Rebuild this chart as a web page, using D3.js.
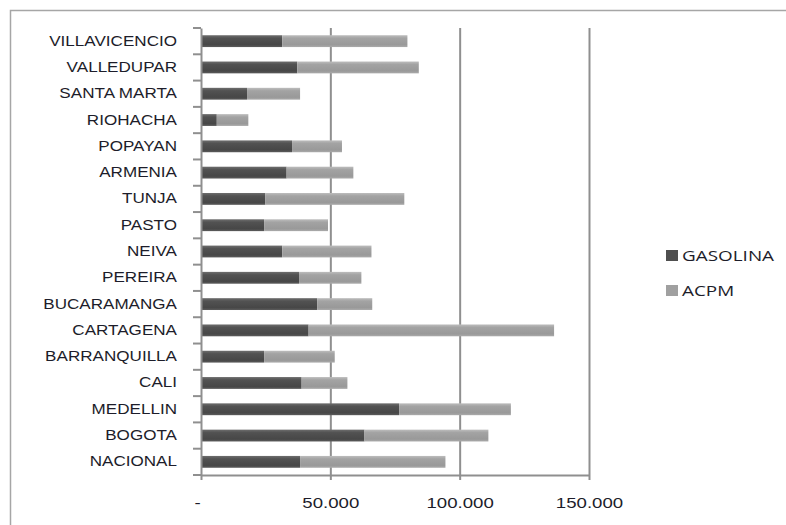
<!DOCTYPE html>
<html>
<head>
<meta charset="utf-8">
<script src="https://cdn.jsdelivr.net/npm/d3@7"></script>
<style>
  body { margin: 0; background: #fff; }
  svg { display: block; font-family: "Open Sans", sans-serif; }
  .axis path, .axis line { stroke: #8f8f8f; stroke-width: 2; }
  .axis text { fill: #1d1d2a; font-size: 14px; }
</style>
</head>
<body>
<div id="chart"></div>
<script>
// categories top to bottom as shown
const categories = ['VILLAVICENCIO', 'VALLEDUPAR', 'SANTA MARTA', 'RIOHACHA', 'POPAYAN', 'ARMENIA', 'TUNJA',
  'PASTO', 'NEIVA', 'PEREIRA', 'BUCARAMANGA', 'CARTAGENA', 'BARRANQUILLA', 'CALI', 'MEDELLIN', 'BOGOTA', 'NACIONAL'];
const gasolina = [31400, 37200, 17800, 6100, 35200, 33100, 24900, 24400, 31400, 37900, 44900, 41600, 24400, 38900, 76600, 63200, 38300];
const acpm = [48400, 47000, 20500, 12200, 19300, 25800, 53700, 24700, 34500, 24100, 21300, 94900, 27300, 17700, 43200, 47900, 56200];
const seriesNames = ['GASOLINA', 'ACPM'];
const xTicks = [0, 50000, 100000, 150000];

const width = 786, height = 525;
const margin = { top: 28, right: 197, bottom: 50, left: 201 };
// the source picture is stretched sideways, so text is widened too
const stretchY = 1.22, stretchX = 1.33, stretchLeg = 1.35;

const svg = d3.select('#chart').append('svg').attr('width', width).attr('height', height);

// outer chart frame (runs off the picture on right and bottom)
svg.append('rect').attr('x', 10.5).attr('y', 10.5).attr('width', 800).attr('height', 540)
  .attr('fill', 'none').attr('stroke', '#a6a6a6').attr('stroke-width', 1.5);

const defs = svg.append('defs');
function grad(id, stops) {
  const g = defs.append('linearGradient').attr('id', id).attr('x1', 0).attr('y1', 0).attr('x2', 0).attr('y2', 1);
  stops.forEach(s => g.append('stop').attr('offset', s[0]).attr('stop-color', s[1]));
}
grad('gGas', [[0, '#6e6e6e'], [0.25, '#525252'], [0.8, '#474747'], [1, '#5c5c5c']]);
grad('gAcpm', [[0, '#bdbdbd'], [0.25, '#a3a3a3'], [0.8, '#999999'], [1, '#ababab']]);
const fills = ['url(#gGas)', 'url(#gAcpm)'];
const legendFills = ['#4f4f4f', '#a0a0a0'];

const x = d3.scaleLinear().domain([0, 150000]).range([margin.left, width - margin.right]);
const y = d3.scaleBand().domain(categories).range([margin.top, height - margin.bottom])
  .paddingInner(0.55).paddingOuter(0.275);

const loc = d3.formatLocale({ decimal: ',', thousands: '.', grouping: [3], currency: ['', ''] });
const tickFmt = d => d === 0 ? '-' : loc.format(',')(d);

// vertical gridlines
svg.append('g').attr('class', 'axis grid')
  .attr('transform', `translate(0,${margin.top})`)
  .call(d3.axisBottom(x).tickValues(xTicks.slice(1)).tickSize(height - margin.bottom - margin.top).tickFormat(''))
  .call(g => g.select('.domain').remove());

// stacked bars
const rows = categories.map((c, i) => ({ cat: c, GASOLINA: gasolina[i], ACPM: acpm[i] }));
const stacked = d3.stack().keys(seriesNames)(rows);

svg.append('g').selectAll('g').data(stacked).join('g')
  .attr('fill', (d, i) => fills[i])
  .selectAll('rect').data(d => d).join('rect')
  .attr('x', d => x(d[0]))
  .attr('y', d => y(d.data.cat))
  .attr('width', d => x(d[1]) - x(d[0]))
  .attr('height', y.bandwidth());

// x axis
const gx = svg.append('g').attr('class', 'axis')
  .attr('transform', `translate(0,${height - margin.bottom})`)
  .call(d3.axisBottom(x).tickValues(xTicks).tickSize(5).tickSizeOuter(0).tickPadding(18).tickFormat(tickFmt));
gx.selectAll('.tick text').attr('font-size', '14.5px')
  .attr('transform', `scale(${stretchX},1)`)
  .attr('x', d => d === 0 ? -4 / stretchX : 0);

// y axis: labels centred on bands, tick marks between categories
const gy = svg.append('g').attr('class', 'axis')
  .attr('transform', `translate(${margin.left},0)`)
  .call(d3.axisLeft(y).tickSize(0).tickPadding(23).tickSizeOuter(0));
gy.selectAll('.tick text')
  .attr('transform', `scale(${stretchY},1)`)
  .attr('x', -24 / stretchY);
const bounds = d3.range(categories.length + 1).map(i => y.range()[0] + i * y.step());
gy.selectAll('line.sep').data(bounds).join('line').attr('class', 'sep')
  .attr('x1', -8).attr('x2', 0).attr('y1', d => d).attr('y2', d => d);

// legend
const legend = svg.append('g').attr('transform', 'translate(666,250)');
const li = legend.selectAll('g').data(seriesNames).join('g')
  .attr('transform', (d, i) => `translate(0,${i * 35})`);
li.append('rect').attr('width', 12).attr('height', 11).attr('fill', (d, i) => legendFills[i]);
li.append('text').attr('transform', `translate(16,6) scale(${stretchLeg},1)`).attr('dy', '0.35em')
  .attr('font-size', '14px').attr('fill', '#1d1d2a').text(d => d);
</script>
</body>
</html>
